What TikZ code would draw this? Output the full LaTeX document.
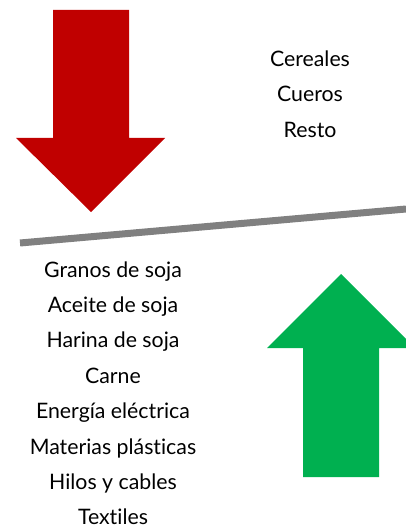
\documentclass[tikz,border=0pt]{standalone}
\usepackage{fontspec}
\setmainfont{Lato}[Ligatures={NoCommon,NoRare,NoDiscretionary}]
\definecolor{arrred}{HTML}{C00000}
\definecolor{arrgreen}{HTML}{00B050}
\definecolor{linegray}{HTML}{808080}
\begin{document}
\begin{tikzpicture}[x=1pt,y=-1pt,
  lbl/.style={inner sep=0pt,font=\fontsize{21.3}{24}\selectfont,anchor=base}]
\useasboundingbox (0,0) rectangle (406,529);
% red arrow down
\fill[arrred] (53,10) -- (129,10) -- (129,138) -- (165,138) -- (91,212) -- (16,138) -- (53,138) -- cycle;
% gray line
\draw[linegray,line width=7pt] (20,243) -- (406,209);
% green arrow up
\begin{scope}
\clip (0,0) rectangle (406,529);
\fill[arrgreen] (341,274) -- (415,348) -- (379,348) -- (379,477) -- (303,477) -- (303,348) -- (267,348) -- cycle;
\end{scope}
% right texts
\node[lbl] (t1) at (310,67) {Cereales};
\node[lbl] (t2) at (310,102) {Cueros};
\node[lbl] (t3) at (310,138) {Resto};
% left texts
\node[lbl] (l1) at (113,277) {Granos de soja};
\node[lbl] (l2) at (113,312.4) {Aceite de soja};
\node[lbl] (l3) at (113,347.8) {Harina de soja};
\node[lbl] (l4) at (113,383.2) {Carne};
\node[lbl] (l5) at (113,418.6) {Energía eléctrica};
\node[lbl] (l6) at (113,454) {Materias plásticas};
\node[lbl] (l7) at (113,489.4) {Hilos y cables};
\node[lbl] (l8) at (113,524) {Textiles};
\end{tikzpicture}
\end{document}
